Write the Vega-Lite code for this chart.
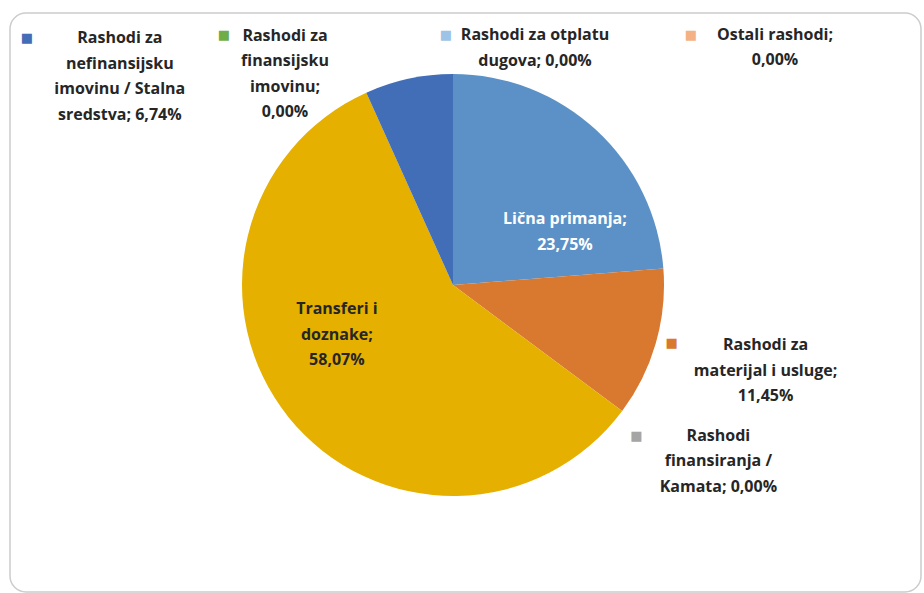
{
  "$schema": "https://vega.github.io/schema/vega-lite/v6.json",
  "width": 911,
  "height": 579,
  "autosize": "none",
  "padding": {"left": 10, "top": 13, "right": 3, "bottom": 1},
  "background": "white",
  "view": {"stroke": "#cccccc", "strokeWidth": 1.5, "cornerRadius": 16, "fill": "white"},
  "data": {
    "values": [
      {"i": 0, "k": "Lična primanja", "v": 23.75, "label": "Lična primanja;\n23,75%"},
      {"i": 1, "k": "Rashodi za materijal i usluge", "v": 11.45, "label": "Rashodi za\nmaterijal i usluge;\n11,45%"},
      {"i": 2, "k": "Rashodi finansiranja / Kamata", "v": 0, "label": "Rashodi\nfinansiranja /\nKamata; 0,00%"},
      {"i": 3, "k": "Transferi i doznake", "v": 58.07, "label": "Transferi i\ndoznake;\n58,07%"},
      {"i": 4, "k": "Rashodi za nefinansijsku imovinu / Stalna sredstva", "v": 6.74, "label": "Rashodi za\nnefinansijsku\nimovinu / Stalna\nsredstva; 6,74%"},
      {"i": 5, "k": "Rashodi za finansijsku imovinu", "v": 0, "label": "Rashodi za\nfinansijsku\nimovinu;\n0,00%"},
      {"i": 6, "k": "Rashodi za otplatu dugova", "v": 0, "label": "Rashodi za otplatu\ndugova; 0,00%"},
      {"i": 7, "k": "Ostali rashodi", "v": 0, "label": "Ostali rashodi;\n0,00%"}
    ]
  },
  "encoding": {
    "theta": {"field": "v", "type": "quantitative", "stack": true},
    "order": {"field": "i", "type": "quantitative"},
    "detail": {"field": "k", "type": "nominal"}
  },
  "layer": [
    {
      "mark": {"type": "arc", "radius": 211, "x": 443, "y": 272, "stroke": null},
      "encoding": {
        "color": {
          "field": "k", "type": "nominal", "legend": null,
          "scale": {
            "domain": ["Lična primanja", "Rashodi za materijal i usluge", "Rashodi finansiranja / Kamata", "Transferi i doznake", "Rashodi za nefinansijsku imovinu / Stalna sredstva", "Rashodi za finansijsku imovinu", "Rashodi za otplatu dugova", "Ostali rashodi"],
            "range": ["#5b91c6", "#d9782f", "#a5a5a5", "#e5b000", "#426db7", "#70ad47", "#9dc3e6", "#f4b183"]
          }
        }
      }
    },
    {
      "mark": {
        "type": "text", "x": 443, "y": 272, "radius": 215,
        "font": "Open Sans", "fontWeight": "bold", "fontSize": 16, "lineHeight": 25.5, "lineBreak": "\n",
        "align": "center", "baseline": "middle",
        "dx": {"expr": "[-34, 106, 93, 51.5, -288, -168, 82, 322][datum.i]"},
        "dy": {"expr": "[92, 0.5, 22, -110.5, -36.5, -34.5, -35, -35.5][datum.i]"},
        "fill": {"expr": "datum.i == 0 ? '#ffffff' : '#262626'"}
      },
      "encoding": {"text": {"field": "label"}}
    },
    {
      "mark": {
        "type": "text", "x": 443, "y": 272, "radius": 215,
        "font": "DejaVu Sans", "fontSize": 13,
        "align": "center", "baseline": "middle",
        "dx": {"expr": "[0, 12, 11, 0, -381, -229, -7, 238][datum.i]"},
        "dy": {"expr": "[0, -1.6, 22, 0, -37, -35, -35, -35][datum.i]"}
      },
      "encoding": {
        "text": {"condition": {"test": "datum.i == 0 || datum.i == 3", "value": ""}, "value": "■"},
        "color": {
          "field": "k", "type": "nominal", "legend": null,
          "scale": {
            "domain": ["Lična primanja", "Rashodi za materijal i usluge", "Rashodi finansiranja / Kamata", "Transferi i doznake", "Rashodi za nefinansijsku imovinu / Stalna sredstva", "Rashodi za finansijsku imovinu", "Rashodi za otplatu dugova", "Ostali rashodi"],
            "range": ["#5b91c6", "#d9782f", "#a5a5a5", "#e5b000", "#426db7", "#70ad47", "#9dc3e6", "#f4b183"]
          }
        }
      }
    }
  ]
}
